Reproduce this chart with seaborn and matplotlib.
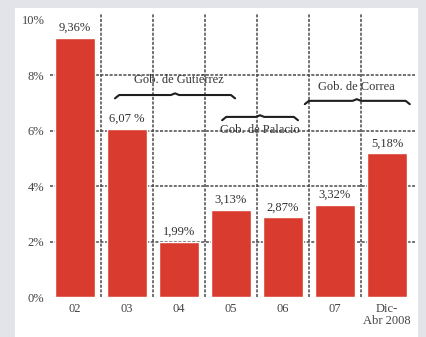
import matplotlib
matplotlib.use("Agg")
import matplotlib.pyplot as plt
import seaborn as sns
import pandas as pd
from matplotlib.patches import Rectangle

categories = ["02", "03", "04", "05", "06", "07", "Dic-\nAbr 2008"]
values = [9.36, 6.07, 1.99, 3.13, 2.87, 3.32, 5.18]
value_labels = ["9,36%", "6,07 %", "1,99%", "3,13%", "2,87%", "3,32%", "5,18%"]
y_ticks = [0, 2, 4, 6, 8, 10]
y_tick_labels = ["0%", "2%", "4%", "6%", "8%", "10%"]
governments = ["Gob. de Gutiérrez", "Gob. de Palacio", "Gob. de Correa"]

sns.set_theme(style="white")
plt.rcParams["font.family"] = ["Liberation Serif", "DejaVu Serif"]

fig = plt.figure(figsize=(4.27, 3.37), dpi=100)
fig.patch.set_facecolor("#e3e4ea")
bg = Rectangle((15 / 427, 0), (418 - 15) / 427, (337 - 8) / 337,
               transform=fig.transFigure, facecolor="white",
               edgecolor="none", zorder=-5)
fig.patches.append(bg)

ax = fig.add_axes([50 / 427, 40 / 337, 365 / 427, (297 - 14.4) / 337])
ax.set_zorder(2)
ax.set_facecolor("none")
ax.patch.set_alpha(0)

df = pd.DataFrame({"cat": categories, "val": values})
sns.barplot(data=df, x="cat", y="val", color="#d93c2f", saturation=1,
            width=0.77, ax=ax, zorder=3)

ax.set_xlim(-0.48, 6.54)
ax.set_ylim(0, 10.2)

grid_kw = dict(color="#4a4a4a", lw=1.1, ls=(0, (2, 1)), zorder=1)
for yv in [2, 4, 6, 8]:
    ax.axhline(yv, **grid_kw)
for i in range(len(categories) - 1):
    ax.axvline(i + 0.5, **grid_kw)

for i, (v, lab) in enumerate(zip(values, value_labels)):
    ax.text(i, v + 0.15, lab, ha="center", va="bottom", fontsize=9,
            color="#333333", zorder=4)

ax.set_yticks(y_ticks)
ax.set_yticklabels(y_tick_labels, fontsize=9, color="#444444")
ax.set_xticks(range(len(categories)))
ax.set_xticklabels(categories, fontsize=9, color="#444444", linespacing=1.0)
ax.tick_params(axis="both", length=0, pad=4)
ax.set_xlabel("")
ax.set_ylabel("")
for s in ax.spines.values():
    s.set_visible(False)


def brace(x0, x1, y, xm=None, d=0.12, e=0.08):
    if xm is None:
        xm = (x0 + x1) / 2
    xs = [x0, x0 + e, xm - e, xm, xm + e, x1 - e, x1]
    ys = [y - d, y, y, y + d * 0.5, y, y, y - d]
    ax.plot(xs, ys, color="#1e1e1e", lw=1.5, zorder=5,
            solid_capstyle="round", solid_joinstyle="round")


brace(0.77, 3.08, 7.29)
ax.text(2.0, 7.6, governments[0], ha="center", va="bottom", fontsize=9,
        color="#333333", zorder=5)
brace(2.83, 4.29, 6.5)
ax.text(3.56, 6.25, governments[1], ha="center", va="top", fontsize=9,
        color="#333333", zorder=5)
brace(4.42, 6.44, 7.08, xm=5.42)
ax.text(5.42, 7.35, governments[2], ha="center", va="bottom", fontsize=9,
        color="#333333", zorder=5)

fig.savefig("out.png", dpi=100, facecolor=fig.get_facecolor())
